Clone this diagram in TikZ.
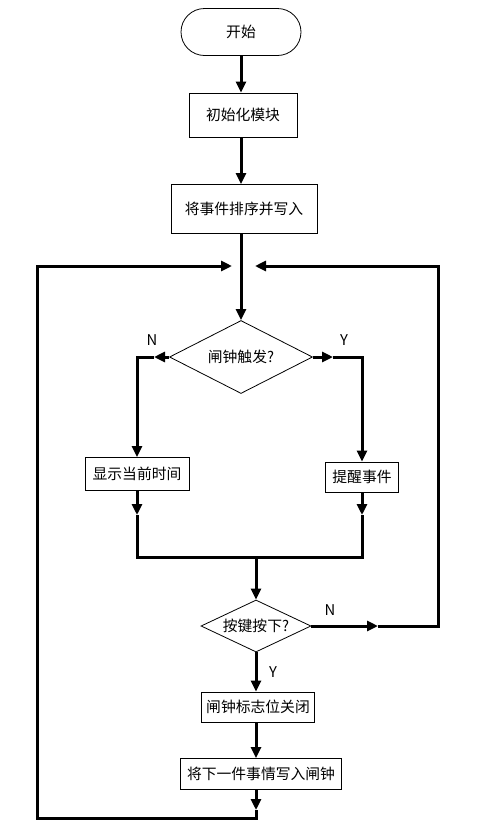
\documentclass[tikz,border=0pt]{standalone}
\usepackage{fontspec}
\setmainfont{Noto Sans CJK SC}
\usepackage{tikz}
\usetikzlibrary{%
  arrows.meta,%
  shapes,% diamond, rounded rectangle
  calc,
}

\begin{document}
\begin{tikzpicture}[x=1pt,y=-1pt,
        line width=3pt,
        >={Triangle[length=11pt,width=10pt]},
        box/.style={draw,line width=0.8pt,inner sep=0pt},
        term/.style={box,rounded rectangle,minimum width=120pt,minimum height=47pt},
        proc/.style={box,rectangle},
        test/.style={box,diamond,aspect=2},
        every node/.append style={font=\fontsize{14.8}{16}\selectfont}]
        \useasboundingbox (0,0) rectangle (486,836);
        \node[term] (start) at (241,32) {开始};
        \node[proc,minimum width=108pt,minimum height=44pt] (init) at (243,115) {初始化模块};
        \node[proc,minimum width=146pt,minimum height=49pt] (sort) at (244,209) {将事件排序并写入};
        \node[test,minimum width=143pt,minimum height=73pt] (alarm) at (241,357) {闸钟触发?};
        \node[proc,minimum width=104pt,minimum height=33pt] (show) at (137,474) {显示当前时间};
        \node[proc,minimum width=73pt,minimum height=30pt] (remind) at (362,477) {提醒事件};
        \node[test,minimum width=110pt,minimum height=52pt] (key) at (256,626) {按键按下?};
        \node[proc,minimum width=113pt,minimum height=30pt] (flag) at (258,707) {闸钟标志位关闭};
        \node[proc,minimum width=161pt,minimum height=31pt] (next) at (261,774) {将下一件事情写入闸钟};
        \node (labN) at (152,340) {N};
        \node (labY) at (344,340) {Y};
        \node (keyN) at (330,610) {N};
        \node (keyY) at (273,672) {Y};
        \coordinate (nA) at (154,357);
        \coordinate (nC) at (137,515);
        \coordinate (yA) at (333,357);
        \coordinate (yC) at (362,515);
        \coordinate (mL) at (137,557);
        \coordinate (mR) at (362,557);
        \coordinate (mM) at (256,557);
        \coordinate (kA) at (378,626);
        \coordinate (kB) at (438,626);
        \coordinate (jR) at (255,266);
        \coordinate (jL) at (232,266);
        \coordinate (bA) at (256,810);
        \coordinate (bB) at (256,818);
        \coordinate (bC) at (37,266);
        \draw[->] (start.south) -- (start.south |- init.north);
        \draw[->] (init.south -| start) -- (sort.north -| start);
        \draw[->] (sort.south -| alarm) -- (alarm.north);
        \draw[->] (alarm.west) -- (nA);
        \draw[->] (nA) -| (show.north);
        \draw[->] (alarm.east) -- (yA);
        \draw[->] (yA) -| (remind.north);
        \draw[->] (show.south) -- (nC);
        \draw[->] (remind.south) -- (yC);
        \draw (nC) -- (mL) -- (mR) -- (yC);
        \draw[->] (mM) -- (key.north);
        \draw[->] (key.east) -- (kA);
        \draw[->] (kA) -- (kB) |- (jR);
        \draw[->] (key.south) -- (key.south |- flag.north);
        \draw[->] (flag.south -| key) -- (next.north -| key);
        \draw[->] (next.south -| key) -- (bA);
        \draw[->] (bA) -- (bB) -| (bC) -- (jL);
    \end{tikzpicture}
\end{document}
